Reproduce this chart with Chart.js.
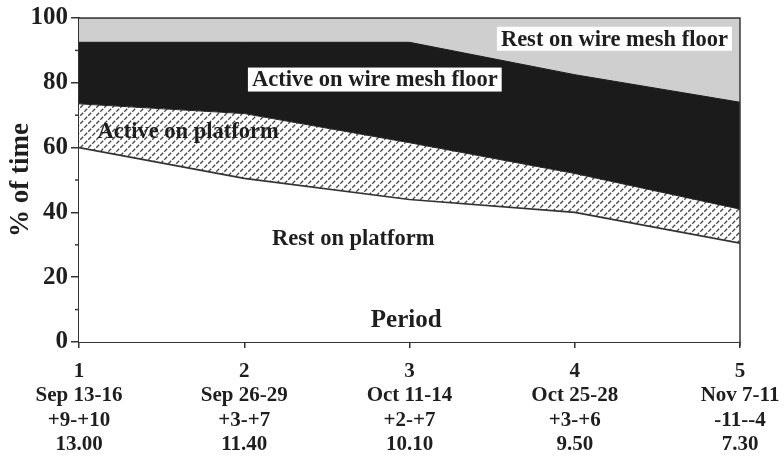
<!DOCTYPE html>
<html>
<head>
<meta charset="utf-8">
<script src="https://cdn.jsdelivr.net/npm/chart.js@4"></script>
<style>
  html, body { margin: 0; padding: 0; background: #fff; }
  #wrap { width: 784px; height: 456px; }
</style>
</head>
<body>
<div id="wrap"><canvas id="behaviourChart" width="784" height="456"></canvas></div>
<script>
// periods on the x axis
const periods = [1, 2, 3, 4, 5];
const periodDates = ['Sep 13-16', 'Sep 26-29', 'Oct 11-14', 'Oct 25-28', 'Nov 7-11'];
const periodTemps = ['+9-+10', '+3-+7', '+2-+7', '+3-+6', '-11--4'];
const periodHours = ['13.00', '11.40', '10.10', '9.50', '7.30'];

// % of time, stacked from the bottom
const restPlatform   = [60, 50.5, 44, 40, 30.5];
const activePlatform = [13.5, 20, 17.5, 12, 10.5];
const activeMesh     = [19, 22, 31, 30.5, 33];
const restMesh       = [7.5, 7.5, 7.5, 17.5, 26];

const yTicks = [0, 20, 40, 60, 80, 100];

const serif = "'Liberation Serif', 'Times New Roman', serif";

function hatch(){ // small dash pattern for "active on platform"
  const c = document.createElement('canvas');
  c.width = 8; c.height = 8;
  const g = c.getContext('2d');
  g.fillStyle = '#ffffff';
  g.fillRect(0, 0, 8, 8);
  g.strokeStyle = '#4a4a4a';
  g.lineWidth = 1.3;
  g.beginPath();
  g.moveTo(0.3, 3.7); g.lineTo(3.2, 0.8);
  g.moveTo(4.3, 7.7); g.lineTo(7.2, 4.8);
  g.stroke();
  return g.createPattern(c, 'repeat');
}

function pts(arr){
  return arr.map(function(v, i){ return {x: periods[i], y: v}; });
}

// text placed inside the areas, positioned in data units
const areaLabels = [
  {text: 'Rest on wire mesh floor', x: 4.24, y: 93.6, box: true, size: 22.5},
  {text: 'Active on wire mesh floor', x: 2.79, y: 81, box: true, size: 22.5},
  {text: 'Active on platform', x: 1.66, y: 65, box: false, size: 22.5},
  {text: 'Rest on platform', x: 2.66, y: 32, box: false, size: 22.5},
  {text: 'Period', x: 2.98, y: 6.8, box: false, size: 25}
];

const extras = {
  id: 'extras',
  afterDatasetsDraw(chart){
    const ctx = chart.ctx;
    const xs = chart.scales.x, ys = chart.scales.y;
    const a = chart.chartArea;
    ctx.save();
    // frame at top and right
    ctx.strokeStyle = '#3a3a3a';
    ctx.lineWidth = 1.5;
    ctx.beginPath();
    ctx.moveTo(a.left, a.top);
    ctx.lineTo(a.right, a.top);
    ctx.lineTo(a.right, a.bottom + 4);
    ctx.stroke();
    // minor ticks on y
    for (let v = 10; v < 100; v += 20){
      const py = ys.getPixelForValue(v);
      ctx.beginPath();
      ctx.moveTo(a.left - 4, py);
      ctx.lineTo(a.left, py);
      ctx.stroke();
    }
    ctx.textAlign = 'center';
    ctx.textBaseline = 'middle';
    areaLabels.forEach(function(l){
      ctx.font = 'bold ' + l.size + 'px ' + serif;
      const px = xs.getPixelForValue(l.x);
      const py = ys.getPixelForValue(l.y);
      if (l.box){
        const w = ctx.measureText(l.text).width;
        ctx.fillStyle = '#ffffff';
        ctx.fillRect(px - w / 2 - 4, py - 12, w + 8, 24);
      }
      ctx.fillStyle = '#1e1e1e';
      ctx.fillText(l.text, px, py + 1);
    });
    ctx.restore();
  }
};

document.addEventListener('DOMContentLoaded', function(){
  const ctx = document.getElementById('behaviourChart');

  new Chart(ctx, {
    type: 'line',
    data: {
      datasets: [
        {label: 'Rest on platform', data: pts(restPlatform), fill: 'origin',
         backgroundColor: '#ffffff', borderColor: '#333333', borderWidth: 1.6},
        {label: 'Active on platform', data: pts(activePlatform), fill: '-1',
         backgroundColor: hatch(), borderColor: '#222222', borderWidth: 1},
        {label: 'Active on wire mesh floor', data: pts(activeMesh), fill: '-1',
         backgroundColor: '#1b1b1b', borderColor: '#1b1b1b', borderWidth: 1},
        {label: 'Rest on wire mesh floor', data: pts(restMesh), fill: '-1',
         backgroundColor: '#cfcfcf', borderColor: '#555555', borderWidth: 1}
      ]
    },
    options: {
      responsive: false,
      animation: false,
      elements: {point: {radius: 0}, line: {tension: 0}},
      layout: {padding: {left: 0, right: 44, top: 15, bottom: 0}},
      plugins: {legend: {display: false}, tooltip: {enabled: false}},
      scales: {
        x: {
          type: 'linear', min: 1, max: 5,
          afterBuildTicks: function(scale){
            scale.ticks = periods.map(function(p){ return {value: p}; });
          },
          afterFit: function(scale){
            scale.height = 114;
            scale.paddingLeft = 0;
            scale.paddingRight = 0;
          },
          grid: {drawOnChartArea: false, tickLength: 6, color: '#333', lineWidth: 1.5},
          border: {color: '#333', width: 2},
          ticks: {
            color: '#1e1e1e', padding: 11, maxRotation: 0, autoSkip: false,
            font: {family: serif, weight: 'bold', size: 21, lineHeight: 1.17},
            callback: function(v){
              const i = periods.indexOf(v);
              return [String(v), periodDates[i], periodTemps[i], periodHours[i]];
            }
          }
        },
        y: {
          stacked: true, min: 0, max: 100,
          afterBuildTicks: function(scale){
            scale.ticks = yTicks.map(function(t){ return {value: t}; });
          },
          afterFit: function(scale){ scale.width = 79; },
          grid: {drawOnChartArea: false, tickLength: 8, color: '#333', lineWidth: 1.5},
          border: {color: '#333', width: 2},
          title: {display: true, text: '% of time', color: '#1e1e1e', padding: {top: 5, bottom: 0},
                  font: {family: serif, weight: 'bold', size: 27}},
          ticks: {color: '#1e1e1e', padding: 3,
                  font: {family: serif, weight: 'bold', size: 25}}
        }
      }
    },
    plugins: [extras]
  });
});
</script>
</body>
</html>
